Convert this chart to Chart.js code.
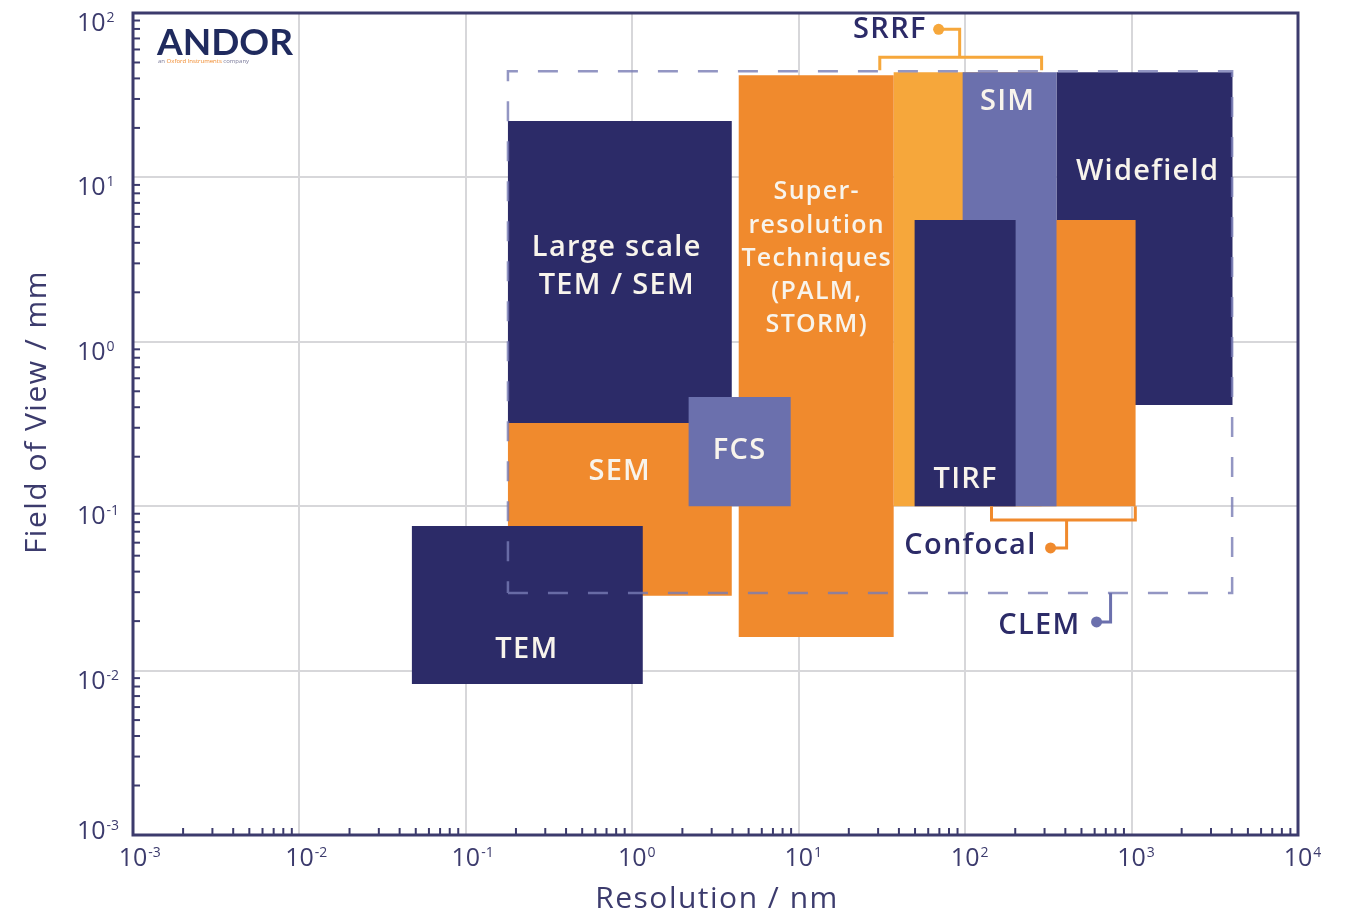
<!DOCTYPE html>
<html>
<head>
<meta charset="utf-8">
<script src="https://cdn.jsdelivr.net/npm/chart.js@4.4.1/dist/chart.umd.min.js"></script>
<style>
  html, body { margin: 0; padding: 0; background: #fff; }
  canvas { display: block; }
</style>
</head>
<body>
<canvas id="fovChart" width="1350" height="919"></canvas>
<script>
// technique boxes, listed bottom layer first: resolution range (nm), field of view range (mm)
const techniques = ['Widefield', 'SRRF', 'Confocal', 'SIM', 'TIRF', 'Super-resolution', 'Large scale TEM / SEM', 'SEM', 'FCS', 'TEM'];
const resMin = [354, 37.2, 144, 96.6, 49.7, 4.36, 0.179, 0.179, 2.18, 0.0474];
const resMax = [4040, 288, 1057, 354, 201, 37.2, 3.96, 3.96, 8.95, 1.156];
const fovMin = [0.412, 0.1, 0.1, 0.1, 0.1, 0.016, 0.3205, 0.0285, 0.1, 0.0083];
const fovMax = [43.6, 43.6, 5.5, 43.6, 5.5, 41.8, 22, 0.3205, 0.461, 0.0758];

// CLEM spans the dashed region
const clemRes = [0.179, 4020];
const clemFov = [0.0297, 44.2];

// axis decades
const xExponents = [-3, -2, -1, 0, 1, 2, 3, 4];
const yExponents = [-3, -2, -1, 0, 1, 2];

const NAVY = '#2c2b68';
const ORANGE = '#f08a2d';
const LIGHT_ORANGE = '#f6a73b';
const LAVENDER = '#6b70ad';
const AXIS = '#3c3b6d';
const TEXT_WHITE = '#f8f4ec';
const FONT = '"Open Sans", Lato, sans-serif';

const colours = [NAVY, LIGHT_ORANGE, ORANGE, LAVENDER, NAVY, ORANGE, NAVY, ORANGE, LAVENDER, NAVY];

// text inside the boxes (anchored in data units)
const boxLabels = [
  { lines: ['Large scale', 'TEM / SEM'], x: 0.807, y: 2.845, size: 29, lh: 38 },
  { lines: ['Super-', 'resolution', 'Techniques', '(PALM,', 'STORM)'], x: 12.83, y: 3.2, size: 25, lh: 33.3 },
  { lines: ['SIM'], x: 180, y: 28.7, size: 29, lh: 30 },
  { lines: ['Widefield'], x: 1248, y: 10.9, size: 29, lh: 30 },
  { lines: ['FCS'], x: 4.42, y: 0.2166, size: 29, lh: 30 },
  { lines: ['SEM'], x: 0.841, y: 0.1614, size: 29, lh: 30 },
  { lines: ['TEM'], x: 0.2325, y: 0.01336, size: 29, lh: 30 },
  { lines: ['TIRF'], x: 100.7, y: 0.1443, size: 29, lh: 30 },
];

// callouts for the overlapping techniques
const callouts = [
  {
    text: 'SRRF', tx: 59.6, ty: 79.6, colour: LIGHT_ORANGE,
    paths: [
      [[30.7, 44.8], [30.7, 53.8], [288, 53.8], [288, 44.8]],
      [[92.7, 53.8], [92.7, 79.6], [69.3, 79.6]],
    ],
    dot: [69.3, 79.6],
  },
  {
    text: 'Confocal', tx: 272.5, ty: 0.0573, colour: ORANGE,
    paths: [
      [[144, 0.1], [144, 0.0824], [1053, 0.0824], [1053, 0.1]],
      [[407, 0.0824], [407, 0.0557], [326, 0.0557]],
    ],
    dot: [326, 0.0557],
  },
  {
    text: 'CLEM', tx: 501, ty: 0.0187, colour: LAVENDER,
    paths: [
      [[748, 0.0297], [748, 0.01977], [616, 0.01977]],
    ],
    dot: [616, 0.01977],
  },
];

const datasets = techniques.map((name, i) => ({
  label: name,
  data: [
    { x: resMin[i], y: fovMin[i] },
    { x: resMax[i], y: fovMin[i] },
    { x: resMax[i], y: fovMax[i] },
    { x: resMin[i], y: fovMax[i] },
    { x: resMin[i], y: fovMin[i] },
  ],
  showLine: true,
  fill: 'shape',
  backgroundColor: colours[i],
  borderColor: 'transparent',
  borderWidth: 0,
  pointRadius: 0,
  tension: 0,
  order: techniques.length - i + 1,
}));

datasets.push({
  label: 'CLEM',
  data: [
    { x: clemRes[0], y: clemFov[0] },
    { x: clemRes[1], y: clemFov[0] },
    { x: clemRes[1], y: clemFov[1] },
    { x: clemRes[0], y: clemFov[1] },
    { x: clemRes[0], y: clemFov[0] },
  ],
  showLine: true,
  fill: false,
  borderColor: 'rgba(120, 124, 180, 0.8)',
  borderWidth: 2.5,
  borderDash: [20, 20],
  pointRadius: 0,
  tension: 0,
  order: 0,
});

const decadeTicks = (exps) => exps.map((e) => ({ value: Math.pow(10, e) }));

const overlay = {
  id: 'overlay',
  afterDraw(chart) {
    const { ctx, chartArea: area, scales } = chart;
    const px = (v) => scales.x.getPixelForValue(v);
    const py = (v) => scales.y.getPixelForValue(v);
    ctx.save();

    // frame
    ctx.strokeStyle = AXIS;
    ctx.lineWidth = 3;
    ctx.strokeRect(area.left, area.top, area.right - area.left, area.bottom - area.top);

    // minor ticks pointing inward
    ctx.lineWidth = 2;
    xExponents.slice(0, -1).forEach((e) => {
      for (let k = 2; k <= 9; k++) {
        const x = px(k * Math.pow(10, e));
        ctx.beginPath();
        ctx.moveTo(x, area.bottom);
        ctx.lineTo(x, area.bottom - 7);
        ctx.stroke();
      }
    });
    yExponents.slice(0, -1).forEach((e) => {
      for (let k = 2; k <= 9; k++) {
        const y = py(k * Math.pow(10, e));
        ctx.beginPath();
        ctx.moveTo(area.left, y);
        ctx.lineTo(area.left + 7, y);
        ctx.stroke();
      }
    });

    // tick labels 10^n
    ctx.fillStyle = AXIS;
    ctx.textBaseline = 'alphabetic';
    xExponents.forEach((e) => {
      const x = px(Math.pow(10, e));
      ctx.font = '25px ' + FONT;
      ctx.textAlign = 'center';
      ctx.fillText('10', x, 866);
      const w = ctx.measureText('10').width;
      ctx.font = '14px ' + FONT;
      ctx.textAlign = 'left';
      ctx.fillText(String(e), x + w / 2 + 1, 857);
    });
    yExponents.forEach((e) => {
      const y = py(Math.pow(10, e));
      const base = e === yExponents[0] ? y + 4 : y + 18;
      ctx.font = '25px ' + FONT;
      ctx.textAlign = 'left';
      ctx.fillText('10', 77, base);
      const w = ctx.measureText('10').width;
      ctx.font = '14px ' + FONT;
      ctx.fillText(String(e), 77 + w + 1, base - 9);
    });

    // axis titles
    ctx.font = '30px ' + FONT;
    ctx.letterSpacing = '1.5px';
    ctx.textAlign = 'center';
    ctx.textBaseline = 'middle';
    ctx.fillText('Resolution / nm', 717, 899);
    ctx.save();
    ctx.translate(37, 412);
    ctx.rotate(-Math.PI / 2);
    ctx.fillText('Field of View / mm', 0, 0);
    ctx.restore();

    // box labels
    ctx.fillStyle = TEXT_WHITE;
    ctx.letterSpacing = '1.3px';
    boxLabels.forEach((b) => {
      ctx.font = '600 ' + b.size + 'px ' + FONT;
      const cx = px(b.x);
      const cy = py(b.y);
      b.lines.forEach((line, j) => {
        ctx.fillText(line, cx, cy + (j - (b.lines.length - 1) / 2) * b.lh);
      });
    });

    // callouts
    callouts.forEach((c) => {
      ctx.strokeStyle = c.colour;
      ctx.lineWidth = 3;
      ctx.lineJoin = 'miter';
      c.paths.forEach((p) => {
        ctx.beginPath();
        p.forEach(([vx, vy], j) => {
          if (j === 0) ctx.moveTo(px(vx), py(vy));
          else ctx.lineTo(px(vx), py(vy));
        });
        ctx.stroke();
      });
      ctx.fillStyle = c.colour;
      ctx.beginPath();
      ctx.arc(px(c.dot[0]), py(c.dot[1]), 5.5, 0, Math.PI * 2);
      ctx.fill();
      ctx.fillStyle = NAVY;
      ctx.font = '600 29px ' + FONT;
      ctx.textAlign = 'right';
      ctx.textBaseline = 'middle';
      ctx.fillText(c.text, px(c.tx) - 1, py(c.ty));
    });

    // logo
    ctx.letterSpacing = '0px';
    ctx.textAlign = 'left';
    ctx.textBaseline = 'alphabetic';
    ctx.fillStyle = '#1f2a5e';
    ctx.font = 'bold 37px Lato, sans-serif';
    ctx.fillText('ANDOR', 157, 55);
    ctx.font = '6px ' + FONT;
    let sx = 158;
    [['an ', '#7a7a9a'], ['Oxford Instruments', '#f08a2d'], [' company', '#7a7a9a']].forEach(([t, col]) => {
      ctx.fillStyle = col;
      ctx.fillText(t, sx, 63);
      sx += ctx.measureText(t).width;
    });

    ctx.restore();
  },
};

const ctx = document.getElementById('fovChart').getContext('2d');

new Chart(ctx, {
  type: 'scatter',
  data: { datasets },
  options: {
    responsive: false,
    animation: false,
    devicePixelRatio: 1,
    layout: { padding: { top: 13, right: 52, left: 0, bottom: 0 } },
    plugins: {
      legend: { display: false },
      tooltip: { enabled: false },
    },
    scales: {
      x: {
        type: 'logarithmic',
        min: 1e-3,
        max: 1e4,
        afterBuildTicks: (s) => { s.ticks = decadeTicks(xExponents); },
        afterFit: (s) => { s.height = 84; },
        ticks: { display: false },
        grid: { color: '#d7d7da', lineWidth: 2, drawTicks: false },
        border: { display: false },
      },
      y: {
        type: 'logarithmic',
        min: 1e-3,
        max: 1e2,
        afterBuildTicks: (s) => { s.ticks = decadeTicks(yExponents); },
        afterFit: (s) => { s.width = 133; },
        ticks: { display: false },
        grid: { color: '#d7d7da', lineWidth: 2, drawTicks: false },
        border: { display: false },
      },
    },
  },
  plugins: [overlay],
});
</script>
</body>
</html>
